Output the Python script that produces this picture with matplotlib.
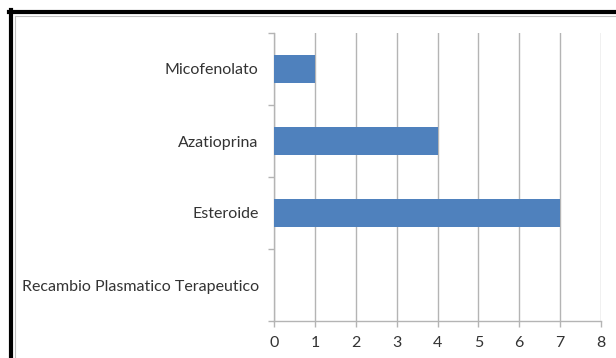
import numpy as np
import matplotlib.pyplot as plt
from matplotlib.lines import Line2D

# --- data ---
categories = ['Micofenolato', 'Azatioprina', 'Esteroide', 'Recambio Plasmatico Terapeutico']
values = [1, 4, 7, 0]
x_ticks = [0, 1, 2, 3, 4, 5, 6, 7, 8]

W, H = 616, 358
fig = plt.figure(figsize=(W/100, H/100), dpi=100)
ax = fig.add_axes([274/W, 1 - 321/H, (601 - 274)/W, (321 - 33)/H])

grid_c = '#b4b4b4'
bar_c = '#4f81bd'

y = np.arange(len(categories))
ax.barh(y, values, height=0.4, color=bar_c, zorder=3)

ax.set_ylim(len(categories) - 0.5, -0.5)
ax.set_xlim(x_ticks[0], x_ticks[-1])
ax.set_xticks(x_ticks)
ax.set_xticklabels([str(t) for t in x_ticks])
ax.set_yticks(y)
ax.set_yticklabels(categories)
ax.set_yticks(np.arange(-0.5, len(categories)), minor=True)

for lab in ax.get_xticklabels() + ax.get_yticklabels():
    lab.set_family('Lato')
    lab.set_fontsize(11.5)
    lab.set_color('#333333')

ax.tick_params(axis='y', which='major', length=0, pad=11)
ax.tick_params(axis='y', which='minor', length=4, width=1, color=grid_c, direction='out')
ax.tick_params(axis='x', which='major', length=4, width=1, color=grid_c, direction='out', pad=7)

ax.xaxis.grid(True, color=grid_c, linewidth=1, zorder=0)
ax.set_axisbelow(True)
for s in ['top', 'right']:
    ax.spines[s].set_visible(False)
for s in ['left', 'bottom']:
    ax.spines[s].set_color(grid_c)
    ax.spines[s].set_linewidth(1)

# frame of the slide around the chart
fig.add_artist(Line2D([9/W, 1], [1 - 12/H, 1 - 12/H], color='black', linewidth=3))
fig.add_artist(Line2D([11/W, 11/W], [0, 1 - 10/H], color='black', linewidth=3))
fig.add_artist(Line2D([14.5/W, 1], [1 - 15.5/H, 1 - 15.5/H], color='#c0c0c0', linewidth=0.8))
fig.add_artist(Line2D([14.5/W, 14.5/W], [0, 1 - 15.5/H], color='#c0c0c0', linewidth=0.8))

fig.savefig('out.png', dpi=100)
